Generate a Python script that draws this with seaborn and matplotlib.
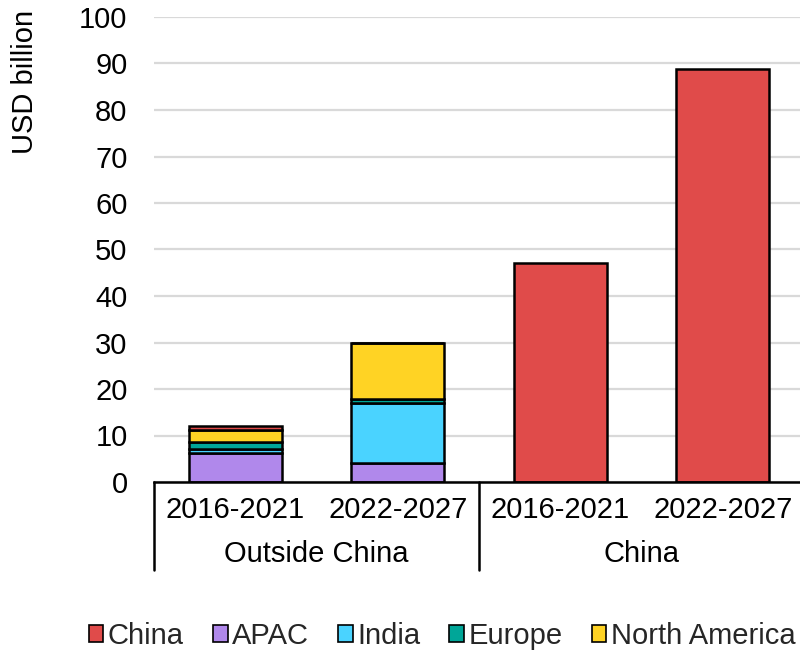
import numpy as np
import pandas as pd
import matplotlib
matplotlib.use("Agg")
import matplotlib.pyplot as plt
import seaborn as sns

# ---- data ----
groups = ["Outside China", "Outside China", "China", "China"]
periods = ["2016-2021", "2022-2027", "2016-2021", "2022-2027"]
series_names = ["APAC", "India", "Europe", "North America", "China"]
apac = [6.2, 4.0, 0.0, 0.0]
india = [0.9, 12.9, 0.0, 0.0]
europe = [1.6, 0.9, 0.0, 0.0]
north_america = [2.4, 12.2, 0.0, 0.0]
china = [0.9, 0.0, 47.2, 88.9]
colors = {"China": "#E04B4A", "APAC": "#B088EB", "India": "#4AD3FF",
          "Europe": "#00A698", "North America": "#FFD324"}
legend_order = ["China", "APAC", "India", "Europe", "North America"]
yticks = list(range(0, 101, 10))

FS = 21

sns.set_theme(style="white")
plt.rcParams["font.family"] = ["Liberation Sans", "DejaVu Sans"]

fig = plt.figure(figsize=(8.0, 6.51), dpi=100)
ax = fig.add_axes([154/800, (651-482)/651, 1 - 154/800, (482-17)/651])

keys = [f"{g}|{p}" for g, p in zip(groups, periods)]
values = {"APAC": apac, "India": india, "Europe": europe,
          "North America": north_america, "China": china}
bottom = np.zeros(len(keys))
handles = {}
for name in series_names:
    df = pd.DataFrame({"key": keys, "val": values[name]})
    sns.barplot(data=df, x="key", y="val", order=keys, color=colors[name],
                width=0.57, edgecolor="black", linewidth=1.8, bottom=bottom.copy(),
                saturation=1, ax=ax, zorder=3)
    bottom += np.array(values[name])
    handles[name] = plt.Rectangle((0, 0), 1, 1, facecolor=colors[name],
                                  edgecolor="black", linewidth=1.2)

ax.set_xlim(-0.5, 3.5 - 4/162.5)
ax.set_ylim(0, 100)
ax.set_yticks(yticks)
ax.set_yticklabels([str(t) for t in yticks], fontsize=FS, color="black")
ax.tick_params(axis="y", length=0, pad=19)
ax.set_xticks([])
ax.set_xlabel("")
ax.set_ylabel("")
ax.yaxis.grid(True, color="#d9d9d9", linewidth=1.6, zorder=0)
for s in ["top", "right", "left"]:
    ax.spines[s].set_visible(False)
ax.spines["bottom"].set_color("black")
ax.spines["bottom"].set_linewidth(1.8)
ax.spines["bottom"].set_zorder(4)

fig.text(25/800, 1 - 82/651, "USD billion", rotation=90, ha="center", va="center",
         fontsize=FS, color="black")

# multi-level category axis
trans = ax.get_xaxis_transform()
for i, p in enumerate(periods):
    ax.text(i, -0.06, p, transform=trans, ha="center", va="center",
            fontsize=FS, color="black", clip_on=False)
ax.text(0.5, -0.155, "Outside China", transform=trans, ha="center", va="center",
        fontsize=FS, color="black", clip_on=False)
ax.text(2.5, -0.155, "China", transform=trans, ha="center", va="center",
        fontsize=FS, color="black", clip_on=False)
sep_bottom = -(570 - 482) / 465
for xs in [-0.5, 1.5, 3.5]:
    ax.plot([xs, xs], [0, sep_bottom], transform=trans, color="black",
            linewidth=1.8, clip_on=False)

fig.legend([handles[n] for n in legend_order], legend_order,
           loc="center", bbox_to_anchor=(442/800, 1 - 636/651), ncol=5,
           frameon=False, fontsize=FS, handlelength=0.5, handleheight=0.5,
           handletextpad=0.15, columnspacing=1.0, borderaxespad=0)

fig.savefig("out.png", dpi=100)
